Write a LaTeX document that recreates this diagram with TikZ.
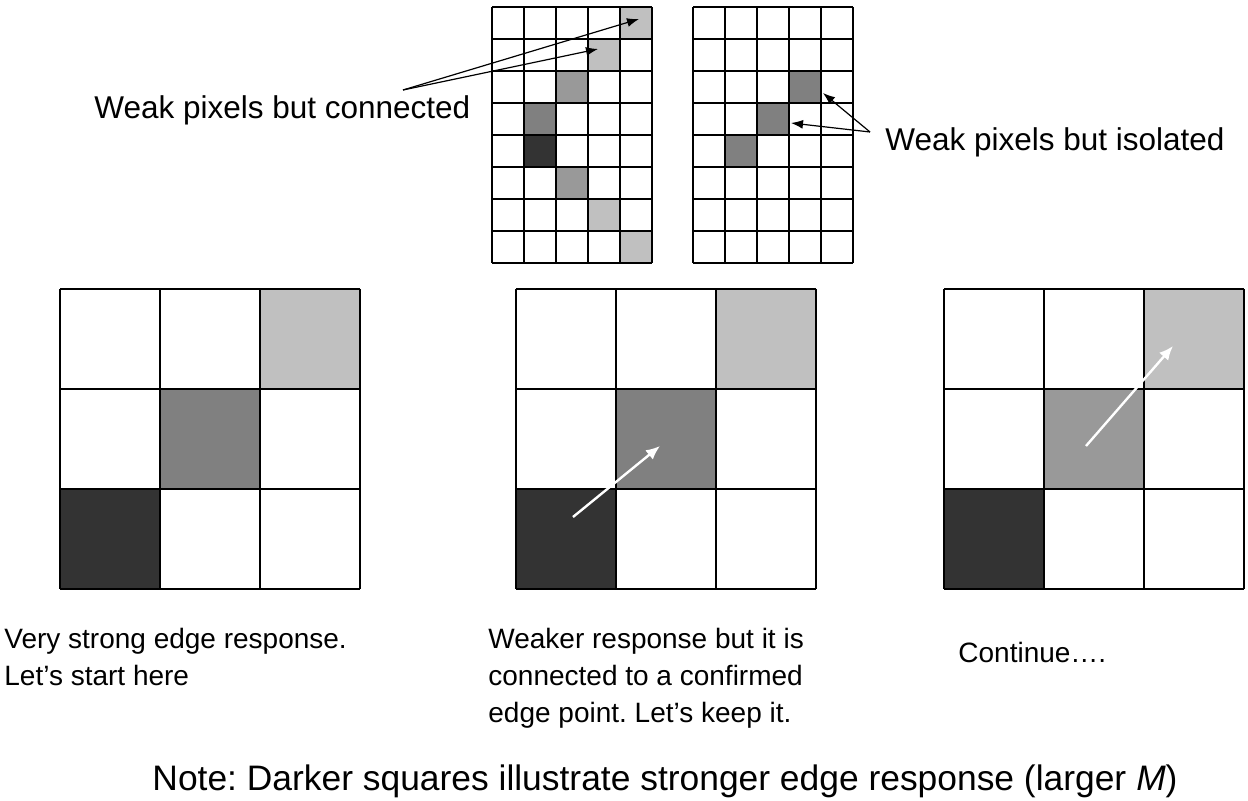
\documentclass[tikz,border=0pt]{standalone}
\usepackage{fontspec}
\setmainfont{Liberation Sans}
\usetikzlibrary{positioning,arrows.meta}
\definecolor{pixlight}{HTML}{C0C0C0}
\definecolor{pixmid}{HTML}{808080}
\definecolor{pixsoft}{HTML}{999999}
\definecolor{pixdark}{HTML}{333333}
\frenchspacing

\begin{document}
\begin{tikzpicture}[x=0.5pt, y=-0.5pt,
    toplabel/.style={font=\fontsize{15.75}{19}\selectfont, inner sep=0pt},
    caption/.style={font=\fontsize{14}{18.5}\selectfont, inner sep=0pt, align=left},
    thingrid/.style={line width=0.7pt},
    thickgrid/.style={line width=0.9pt},
    pointer/.style={-{Latex[length=6pt,width=4.5pt]}, line width=0.6pt},
    walk/.style={-{Latex[length=7pt,width=6pt]}, white, line width=1.2pt}]
    \useasboundingbox (0,0) rectangle (1248,801);

    % small grid: weak pixels connected
    \foreach \c/\r/\tone in {4/0/pixlight, 3/1/pixlight, 2/2/pixsoft, 1/3/pixmid, 1/4/pixdark, 2/5/pixsoft, 3/6/pixlight, 4/7/pixlight} {
        \fill[\tone] (492+\c*32,7+\r*32) rectangle ++(32,32);
    }
    \foreach \i in {0,...,5} \draw[thingrid] (492+\i*32,7) -- ++(0,256);
    \foreach \j in {0,...,8} \draw[thingrid] (492,7+\j*32) -- ++(160,0);

    % small grid: weak pixels isolated
    \foreach \c/\r in {3/2, 2/3, 1/4} {
        \fill[pixmid] (693+\c*32,7+\r*32) rectangle ++(32,32);
    }
    \foreach \i in {0,...,5} \draw[thingrid] (693+\i*32,7) -- ++(0,256);
    \foreach \j in {0,...,8} \draw[thingrid] (693,7+\j*32) -- ++(160,0);

    % three 3x3 steps
    \foreach \gx/\mid in {60/pixmid, 516/pixmid, 944/pixsoft} {
        \fill[pixlight] (\gx+200,289) rectangle ++(100,100);
        \fill[\mid] (\gx+100,389) rectangle ++(100,100);
        \fill[pixdark] (\gx,489) rectangle ++(100,100);
        \foreach \k in {0,...,3} {
            \draw[thickgrid] (\gx+\k*100,289) -- ++(0,300);
            \draw[thickgrid] (\gx,289+\k*100) -- ++(300,0);
        }
    }

    % labels on the small grids
    \node[toplabel, anchor=base west] (connlabel) at (94,119) {Weak pixels but connected};
    \coordinate (conntail) at (403,90);
    \coordinate (conntipA) at (639,19);
    \coordinate (conntipB) at (598,49);
    \draw[pointer] (conntail) -- (conntipA);
    \draw[pointer] (conntail) -- (conntipB);

    \node[toplabel, anchor=base west] (isolabel) at (885,151) {Weak pixels but isolated};
    \coordinate (isotail) at (870,132);
    \coordinate (isotipA) at (823,93);
    \coordinate (isotipB) at (791,123);
    \draw[pointer] (isotail) -- (isotipA);
    \draw[pointer] (isotail) -- (isotipB);

    % tracking arrows
    \coordinate (startA) at (573,517);
    \coordinate (keepA) at (660,446);
    \coordinate (startB) at (1086,446);
    \coordinate (keepB) at (1173,346);
    \draw[walk] (startA) -- (keepA);
    \draw[walk] (startB) -- (keepB);

    % captions
    \node[caption, anchor=north west] (capstart) at (4,628) {Very strong edge response.\\Let’s start here};
    \node[caption, anchor=north west] (capkeep) at (488,628) {Weaker response but it is\\connected to a confirmed\\edge point. Let’s keep it.};
    \node[caption, anchor=base west] (capgo) at (958,663) {Continue….};
    \node[font=\fontsize{17.7}{22}\selectfont, inner sep=0pt, anchor=base] (note) at (665,791) {Note: Darker squares illustrate stronger edge response (larger \textit{M})};
\end{tikzpicture}
\end{document}
